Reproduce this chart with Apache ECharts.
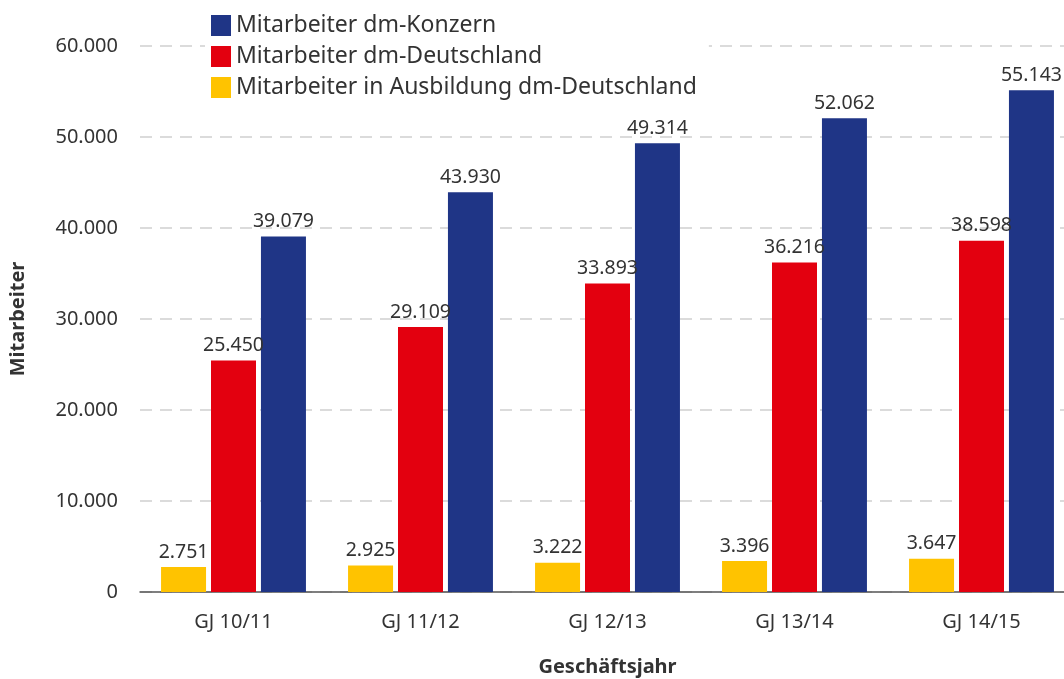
<!DOCTYPE html>
<html><head><meta charset="utf-8">
<script src="https://cdn.jsdelivr.net/npm/echarts@6/dist/echarts.min.js"></script>
<style>html,body{margin:0;padding:0;background:#fff}#c{width:1064px;height:679px}</style>
</head><body><div id="c"></div>
<script>
const categories = ['GJ 10/11','GJ 11/12','GJ 12/13','GJ 13/14','GJ 14/15'];
const azubi = [2751, 2925, 3222, 3396, 3647];
const deutschland = [25450, 29109, 33893, 36216, 38598];
const konzern = [39079, 43930, 49314, 52062, 55143];
const yTicks = [0, 10000, 20000, 30000, 40000, 50000, 60000];

const FONT = 'Noto Sans';
const fmt = v => String(v).replace(/\B(?=(\d{3})+(?!\d))/g, '.');
const chart = echarts.init(document.getElementById('c'));
const lbl = {show:true, position:'top', distance:5, color:'#333', fontSize:19.5, fontFamily:FONT, formatter:p=>fmt(p.value)};
chart.setOption({
  animation:false,
  textStyle:{fontFamily:FONT},
  grid:{left:140, right:-11, top:46, bottom:87, containLabel:false, outerBoundsMode:'none'},
  legend:{
    data:['Mitarbeiter dm-Konzern','Mitarbeiter dm-Deutschland','Mitarbeiter in Ausbildung dm-Deutschland'],
    orient:'vertical', left:205, top:10, icon:'rect', itemWidth:20, itemHeight:21, itemGap:8,
    backgroundColor:'#fff', padding:[4,12,4,6],
    textStyle:{color:'#333', fontSize:23, lineHeight:21, fontFamily:FONT}
  },
  xAxis:{type:'category', data:categories,
    name:'Geschäftsjahr', nameLocation:'middle', nameGap:65,
    nameTextStyle:{fontSize:20, fontWeight:'bold', color:'#333', fontFamily:FONT},
    axisLine:{lineStyle:{color:'#555', width:1.5}}, axisTick:{show:false},
    axisLabel:{color:'#333', fontSize:20, margin:20, fontFamily:FONT}},
  yAxis:{type:'value', min:yTicks[0], max:yTicks[yTicks.length-1], interval:10000,
    name:'Mitarbeiter', nameLocation:'middle', nameGap:112, nameRotate:90,
    nameTextStyle:{fontSize:20, fontWeight:'bold', color:'#333', fontFamily:FONT},
    axisLabel:{color:'#333', fontSize:20, margin:22, fontFamily:FONT, formatter:v=>fmt(v)},
    splitLine:{lineStyle:{color:'#d0d0d0', type:[12,8], width:1.5}}},
  series:[
    {name:'Mitarbeiter in Ausbildung dm-Deutschland', type:'bar', data:azubi, barWidth:45, barGap:'11%', itemStyle:{color:'#FFC300'}, label:lbl},
    {name:'Mitarbeiter dm-Deutschland', type:'bar', data:deutschland, barWidth:45, barGap:'11%', itemStyle:{color:'#E3000F'}, label:lbl},
    {name:'Mitarbeiter dm-Konzern', type:'bar', data:konzern, barWidth:45, barGap:'11%', itemStyle:{color:'#1F3586'}, label:lbl}
  ]
});
</script></body></html>
